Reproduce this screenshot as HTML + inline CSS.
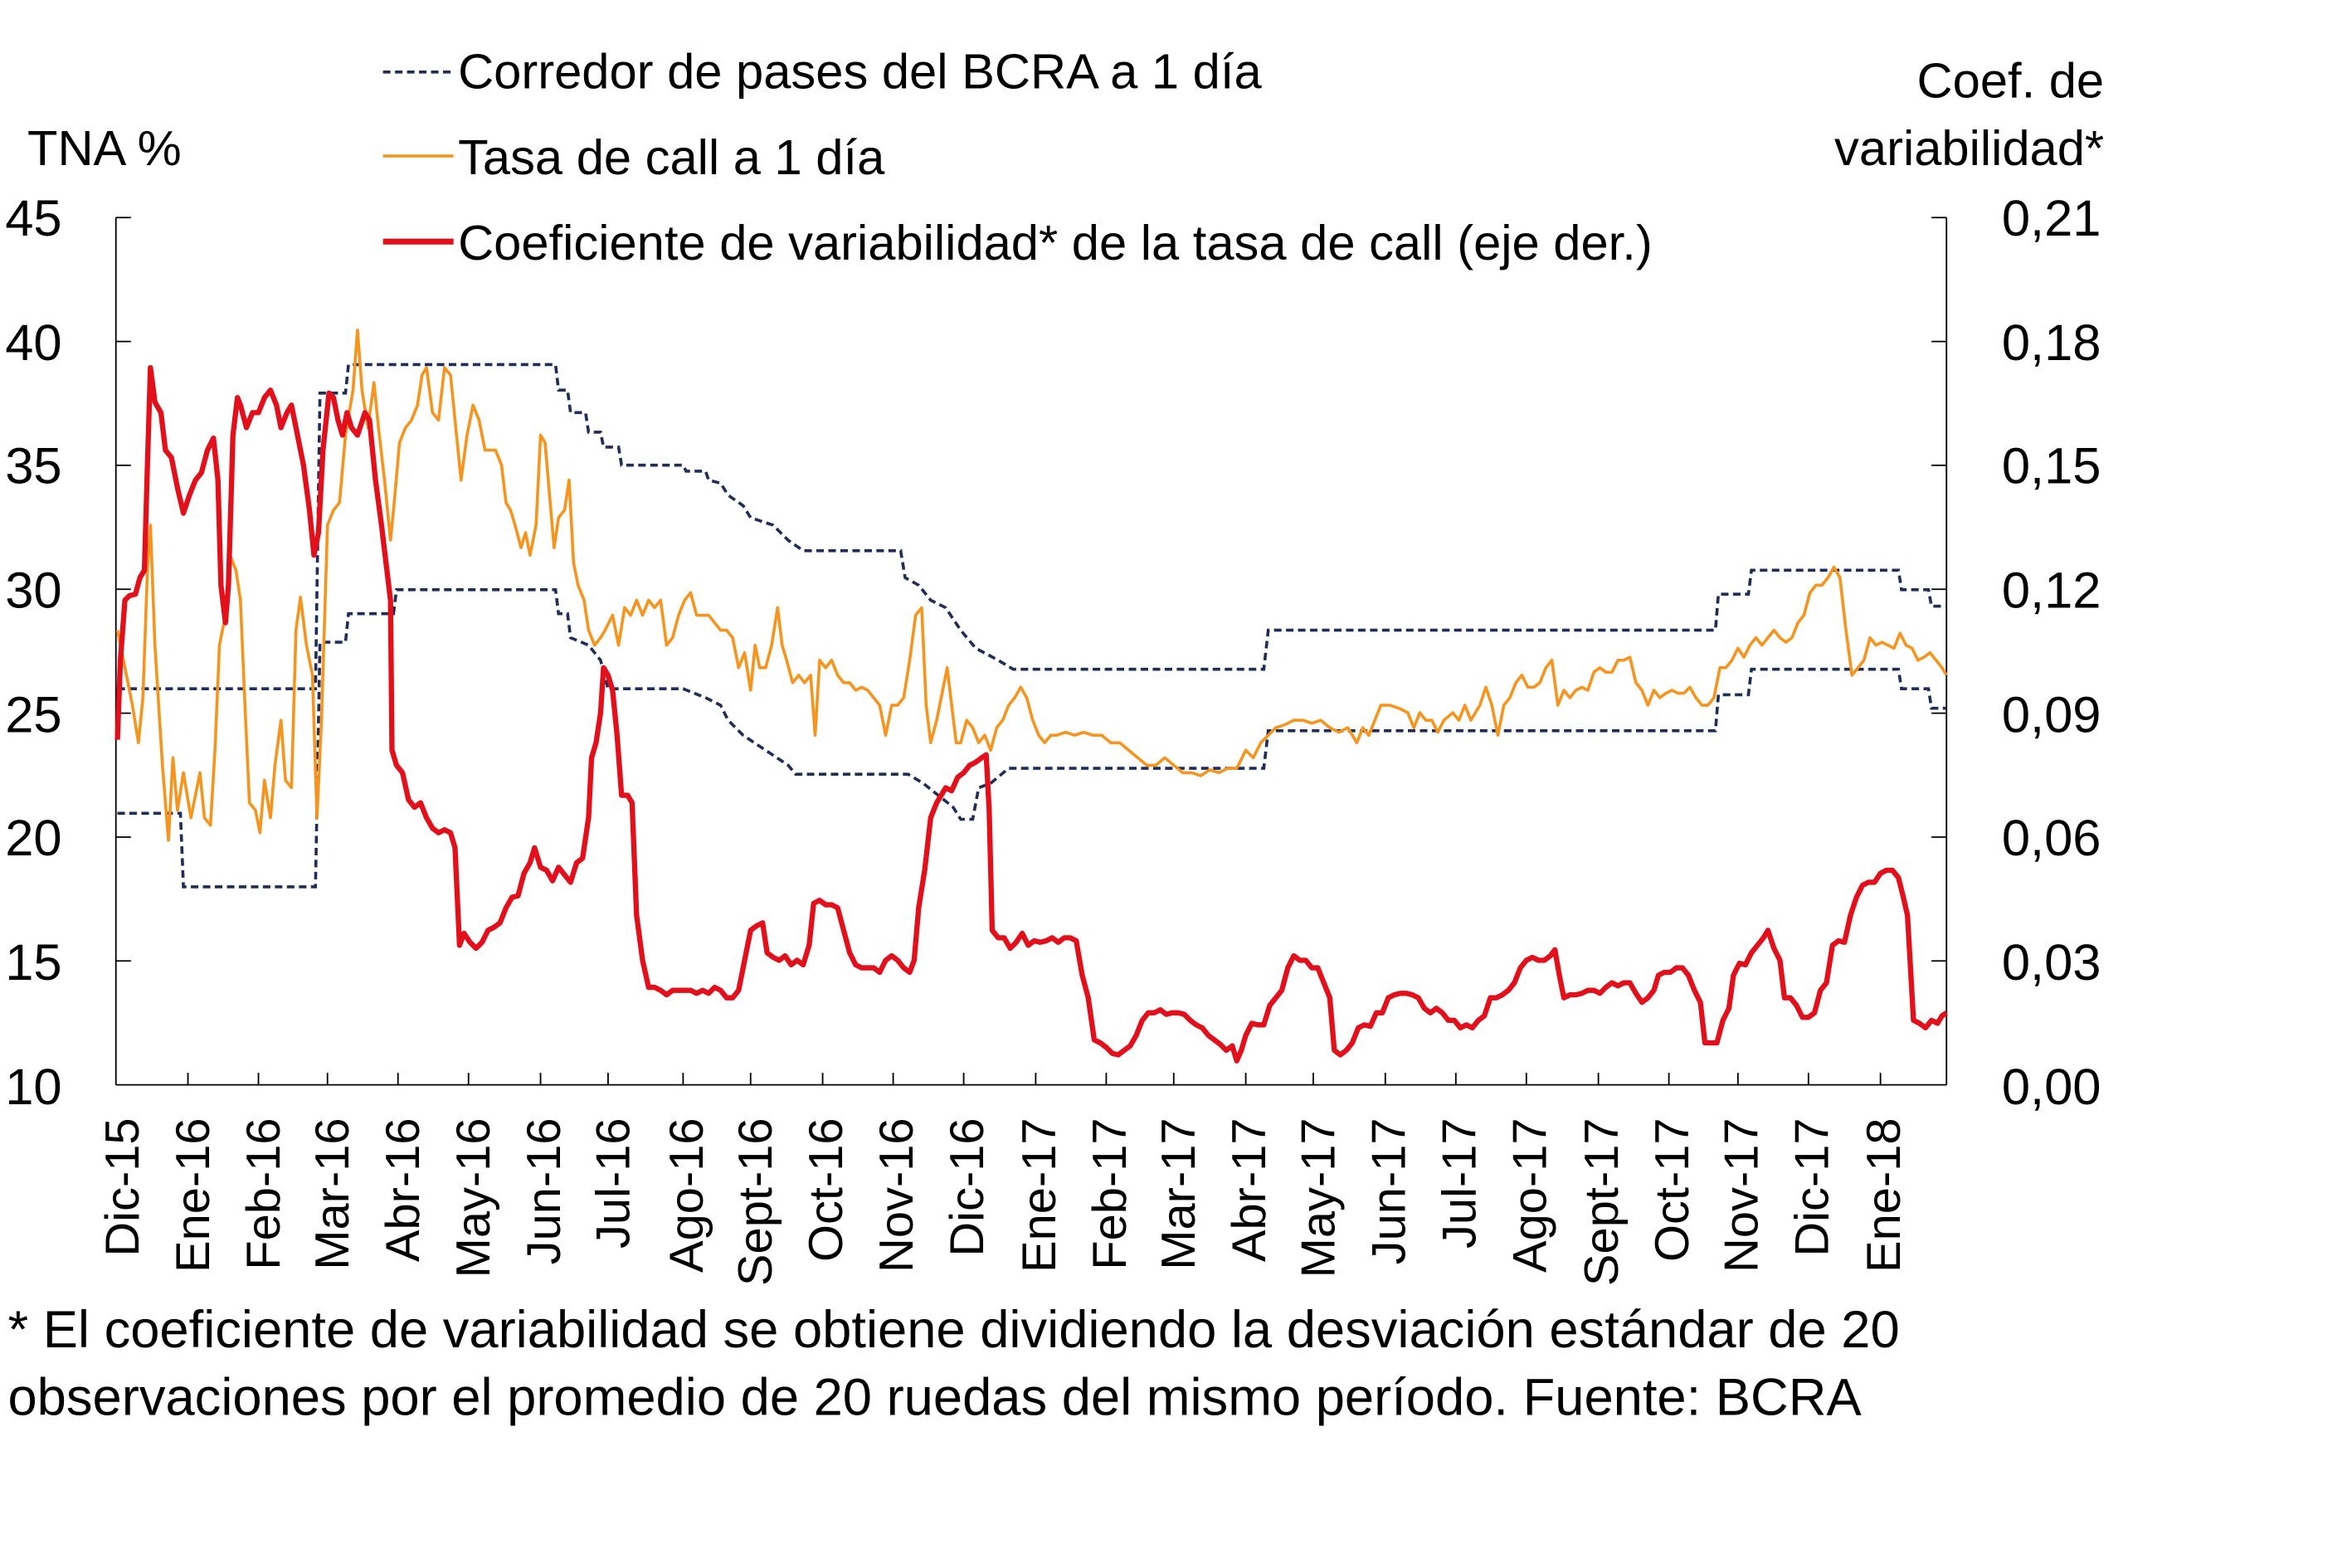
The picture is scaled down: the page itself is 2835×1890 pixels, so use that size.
<!DOCTYPE html>
<html><head><meta charset="utf-8">
<style>
html,body{margin:0;padding:0;background:#fff;}
svg{display:block;}
text{font-family:"Liberation Sans",sans-serif;fill:#000;}
</style></head>
<body>
<svg width="2835" height="1890" viewBox="0 0 1567 1045" xmlns="http://www.w3.org/2000/svg">
<rect width="1567" height="1045" fill="#fff"/>
<g stroke="#000" stroke-width="1" fill="none">
<line x1="77" y1="145" x2="77" y2="723"/>
<line x1="1297" y1="145" x2="1297" y2="723"/>
<line x1="77" y1="723" x2="1297" y2="723"/>
<path d="M77 145h10M77 227.6h10M77 310.1h10M77 392.7h10M77 475.3h10M77 557.9h10M77 640.4h10"/>
<path d="M1297 145h-10M1297 227.6h-10M1297 310.1h-10M1297 392.7h-10M1297 475.3h-10M1297 557.9h-10M1297 640.4h-10"/>
<path d="M125 723v-8M172 723v-8M218 723v-8M265 723v-8M312 723v-8M360 723v-8M405 723v-8M455 723v-8M500 723v-8M548 723v-8M595 723v-8M642 723v-8M690 723v-8M737 723v-8M782 723v-8M830 723v-8M875 723v-8M923 723v-8M970 723v-8M1017 723v-8M1065 723v-8M1112 723v-8M1158 723v-8M1205 723v-8M1253 723v-8"/>
</g>
<g font-size="34" text-anchor="end">
<text x="41" y="157">45</text><text x="41" y="240">40</text><text x="41" y="322">35</text>
<text x="41" y="405">30</text><text x="41" y="488">25</text><text x="41" y="570">20</text>
<text x="41" y="653">15</text><text x="41" y="736">10</text>
<text x="1400" y="157">0,21</text><text x="1400" y="240">0,18</text><text x="1400" y="322">0,15</text>
<text x="1400" y="405">0,12</text><text x="1400" y="488">0,09</text><text x="1400" y="570">0,06</text>
<text x="1400" y="653">0,03</text><text x="1400" y="736">0,00</text>
<text x="1402" y="65" font-size="33">Coef. de</text><text x="1402" y="110" font-size="33">variabilidad*</text>
</g>
<text x="18" y="110" font-size="33">TNA %</text>
<g font-size="32" text-anchor="end">
<text transform="translate(92,745) rotate(-90)">Dic-15</text>
<text transform="translate(139,745) rotate(-90)">Ene-16</text>
<text transform="translate(186,745) rotate(-90)">Feb-16</text>
<text transform="translate(232,745) rotate(-90)">Mar-16</text>
<text transform="translate(279,745) rotate(-90)">Abr-16</text>
<text transform="translate(326,745) rotate(-90)">May-16</text>
<text transform="translate(373,745) rotate(-90)">Jun-16</text>
<text transform="translate(419,745) rotate(-90)">Jul-16</text>
<text transform="translate(468,745) rotate(-90)">Ago-16</text>
<text transform="translate(514,745) rotate(-90)">Sept-16</text>
<text transform="translate(561,745) rotate(-90)">Oct-16</text>
<text transform="translate(608,745) rotate(-90)">Nov-16</text>
<text transform="translate(655,745) rotate(-90)">Dic-16</text>
<text transform="translate(703,745) rotate(-90)">Ene-17</text>
<text transform="translate(750,745) rotate(-90)">Feb-17</text>
<text transform="translate(796,745) rotate(-90)">Mar-17</text>
<text transform="translate(843,745) rotate(-90)">Abr-17</text>
<text transform="translate(889,745) rotate(-90)">May-17</text>
<text transform="translate(936,745) rotate(-90)">Jun-17</text>
<text transform="translate(983,745) rotate(-90)">Jul-17</text>
<text transform="translate(1030,745) rotate(-90)">Ago-17</text>
<text transform="translate(1078,745) rotate(-90)">Sept-17</text>
<text transform="translate(1125,745) rotate(-90)">Oct-17</text>
<text transform="translate(1171,745) rotate(-90)">Nov-17</text>
<text transform="translate(1218,745) rotate(-90)">Dic-17</text>
<text transform="translate(1266,745) rotate(-90)">Ene-18</text>
</g>
<line x1="255" y1="48" x2="302" y2="48" stroke="#1f2d5a" stroke-width="2" stroke-dasharray="5,3"/>
<line x1="255" y1="104" x2="302" y2="104" stroke="#f7941d" stroke-width="2"/>
<line x1="255" y1="161" x2="302" y2="161" stroke="#e3101b" stroke-width="4"/>
<g font-size="33">
<text x="305" y="59">Corredor de pases del BCRA a 1 día</text>
<text x="305" y="116">Tasa de call a 1 día</text>
<text x="305" y="173">Coeficiente de variabilidad* de la tasa de call (eje der.)</text>
</g>
<g font-size="35">
<text x="5" y="898">* El coeficiente de variabilidad se obtiene dividiendo la desviación estándar de 20</text>
<text x="5" y="943">observaciones por el promedio de 20 ruedas del mismo período. Fuente: BCRA</text>
</g>
<g fill="none" stroke="#1f2d5a" stroke-width="2" stroke-dasharray="5,3">
<polyline points="78,459 210,459 213,262 230,262 232,243 370,243 372,260 378,260 380,275 390,275 392,288 400,288 402,298 412,298 414,310 455,310 457,314 470,314 472,320 480,322 485,330 495,337 500,345 515,350 525,360 535,367 600,367 603,385 612,390 620,400 630,405 640,420 650,432 665,440 675,446 842,446 845,420 1143,420 1145,396 1165,396 1167,380 1265,380 1267,393 1285,393 1287,404 1297,404"/>
<polyline points="78,542 120,542 122,591 210,591 213,428 230,428 232,409 262,409 264,393 370,393 372,409 378,409 380,425 392,430 400,440 405,459 455,459 470,465 480,470 485,480 495,490 510,500 525,510 530,516 605,516 615,522 625,530 635,538 640,546 648,546 652,525 660,522 672,512 842,512 845,487 1143,487 1145,463 1165,463 1167,446 1265,446 1267,459 1285,459 1287,472 1297,472"/>
</g>
<polyline fill="none" stroke="#f7941d" stroke-width="2" stroke-linejoin="round" points="78,420 82,440 88,470 92,495 95,465 98,380 100,350 103,430 108,510 112,560 115,505 118,540 122,515 127,545 130,530 133,515 136,545 140,550 143,500 146,430 150,410 153,370 157,380 160,400 163,470 166,535 170,540 173,555 176,520 180,545 183,510 187,480 190,520 194,525 197,420 200,398 204,430 208,450 211,545 214,480 218,350 222,340 226,335 230,290 235,260 238,220 241,260 245,285 249,255 252,285 256,320 260,360 262,340 266,295 270,285 274,280 278,270 281,250 284,245 288,275 292,280 296,245 300,250 303,280 307,320 311,290 315,270 319,280 323,300 327,300 330,300 334,310 337,335 340,340 343,350 347,365 350,355 353,370 357,350 360,290 363,295 366,330 369,365 372,345 376,340 379,320 382,375 385,390 389,400 392,420 396,430 400,425 403,420 408,410 412,430 416,405 420,410 424,400 428,410 432,400 436,405 440,400 444,430 448,425 452,410 456,400 460,395 464,410 468,410 472,410 476,415 480,420 484,420 488,425 492,445 496,435 500,460 503,430 506,445 510,445 514,430 518,405 521,430 524,440 528,455 532,450 536,455 540,450 543,490 546,440 550,445 554,440 558,450 562,455 566,455 570,460 574,458 578,460 582,465 586,470 590,490 594,470 598,470 602,465 606,440 610,410 614,405 617,470 620,495 624,480 628,460 631,445 634,470 637,495 640,495 644,480 648,485 652,495 656,490 660,500 664,485 668,480 672,470 676,465 680,458 684,465 688,480 692,490 696,495 700,490 704,490 710,488 716,490 722,488 728,490 734,490 740,495 746,495 752,500 758,505 764,510 770,510 776,505 782,510 788,515 794,515 800,517 806,513 812,515 818,512 824,512 830,500 835,505 840,495 845,490 850,485 856,483 862,480 868,480 874,482 880,480 886,485 892,488 898,485 904,495 908,485 912,490 916,480 920,470 926,470 932,472 938,475 942,485 946,475 950,480 954,480 958,488 962,480 968,475 972,480 976,470 980,480 986,470 990,458 994,470 998,490 1002,470 1006,465 1010,455 1014,450 1018,458 1022,458 1026,455 1030,445 1034,440 1038,470 1042,460 1046,465 1050,460 1054,458 1058,460 1062,448 1066,445 1070,448 1074,448 1078,440 1082,440 1086,438 1090,455 1094,460 1098,470 1102,460 1106,465 1110,462 1114,460 1118,462 1122,462 1126,458 1130,465 1134,470 1138,470 1142,465 1146,445 1150,445 1154,440 1158,432 1162,438 1166,430 1170,425 1174,430 1178,425 1182,420 1186,425 1190,428 1194,425 1198,415 1202,410 1206,395 1210,390 1214,390 1218,385 1222,378 1226,385 1230,420 1234,450 1238,445 1242,440 1246,425 1250,430 1254,428 1258,430 1262,432 1266,422 1270,430 1274,432 1278,440 1282,438 1286,435 1290,440 1294,445 1297,450"/>
<polyline fill="none" stroke="#e3101b" stroke-width="3.5" stroke-linejoin="round" points="78,493 80,440 83,400 86,397 90,396 93,385 96,380 98,310 100,245 103,268 107,275 110,300 114,305 118,325 122,342 126,330 130,320 134,315 138,300 142,292 145,320 147,390 150,415 152,390 155,290 158,265 160,270 164,285 168,275 172,275 176,265 180,260 184,270 187,285 191,275 194,270 198,290 202,310 206,340 209,370 212,355 215,300 219,262 222,265 225,280 228,290 231,275 234,285 238,290 243,275 246,280 250,320 254,350 257,375 260,400 261,500 264,510 268,515 272,533 276,538 280,535 284,545 288,552 292,555 296,553 300,555 303,565 306,630 309,622 313,628 317,632 321,628 325,620 329,618 333,615 337,605 341,598 345,597 349,582 353,575 356,565 360,578 364,580 368,587 372,578 376,583 380,588 384,575 388,572 392,545 394,505 397,495 400,475 402,445 405,450 408,460 411,490 414,530 418,530 421,535 424,610 428,640 432,658 436,658 440,660 444,663 448,660 452,660 456,660 460,660 464,662 468,660 472,662 476,658 480,660 484,665 488,665 492,660 496,640 500,620 504,617 508,615 511,635 515,638 519,640 523,637 527,643 531,640 535,643 539,630 542,602 546,600 550,603 554,603 558,605 562,620 566,635 570,643 574,645 578,645 582,645 586,648 590,640 594,637 598,640 602,645 606,648 609,640 612,605 616,580 620,545 624,535 627,530 630,525 634,527 638,518 642,515 646,510 650,508 654,505 657,503 659,540 661,620 665,625 669,625 673,632 677,628 681,622 685,630 689,627 693,628 697,627 701,625 705,628 709,625 713,625 717,627 721,650 725,665 729,693 733,695 737,698 741,702 745,703 749,700 753,697 757,690 761,680 765,675 769,675 773,673 777,676 781,675 785,675 789,676 793,680 797,683 801,685 805,690 809,693 813,696 817,700 821,697 824,707 827,700 830,690 834,682 838,683 842,683 846,670 850,665 854,660 858,645 862,637 866,640 870,640 874,645 878,645 882,655 886,665 889,700 893,703 897,700 901,695 905,685 909,683 913,684 917,675 921,675 925,665 929,663 933,662 937,662 941,663 945,665 949,672 953,675 957,672 961,675 965,680 969,680 973,685 977,683 981,685 985,680 989,677 993,665 997,665 1001,663 1005,660 1009,655 1013,645 1017,640 1021,638 1025,640 1029,640 1033,637 1036,633 1039,650 1042,665 1046,663 1050,663 1054,662 1058,660 1062,660 1066,662 1070,658 1074,655 1078,657 1082,655 1086,655 1090,662 1094,668 1098,665 1102,660 1105,650 1109,648 1113,648 1117,645 1121,645 1125,650 1129,660 1133,668 1136,695 1140,695 1144,695 1148,680 1152,672 1155,650 1159,642 1163,643 1167,635 1171,630 1175,625 1178,620 1182,632 1186,640 1189,665 1193,665 1197,670 1201,678 1205,678 1209,675 1213,660 1217,655 1221,630 1225,627 1229,628 1233,610 1237,598 1241,590 1245,588 1249,588 1253,582 1257,580 1261,580 1265,585 1268,597 1271,610 1273,645 1275,680 1279,682 1283,685 1287,680 1291,682 1294,677 1297,675"/>
</svg>
</body></html>
